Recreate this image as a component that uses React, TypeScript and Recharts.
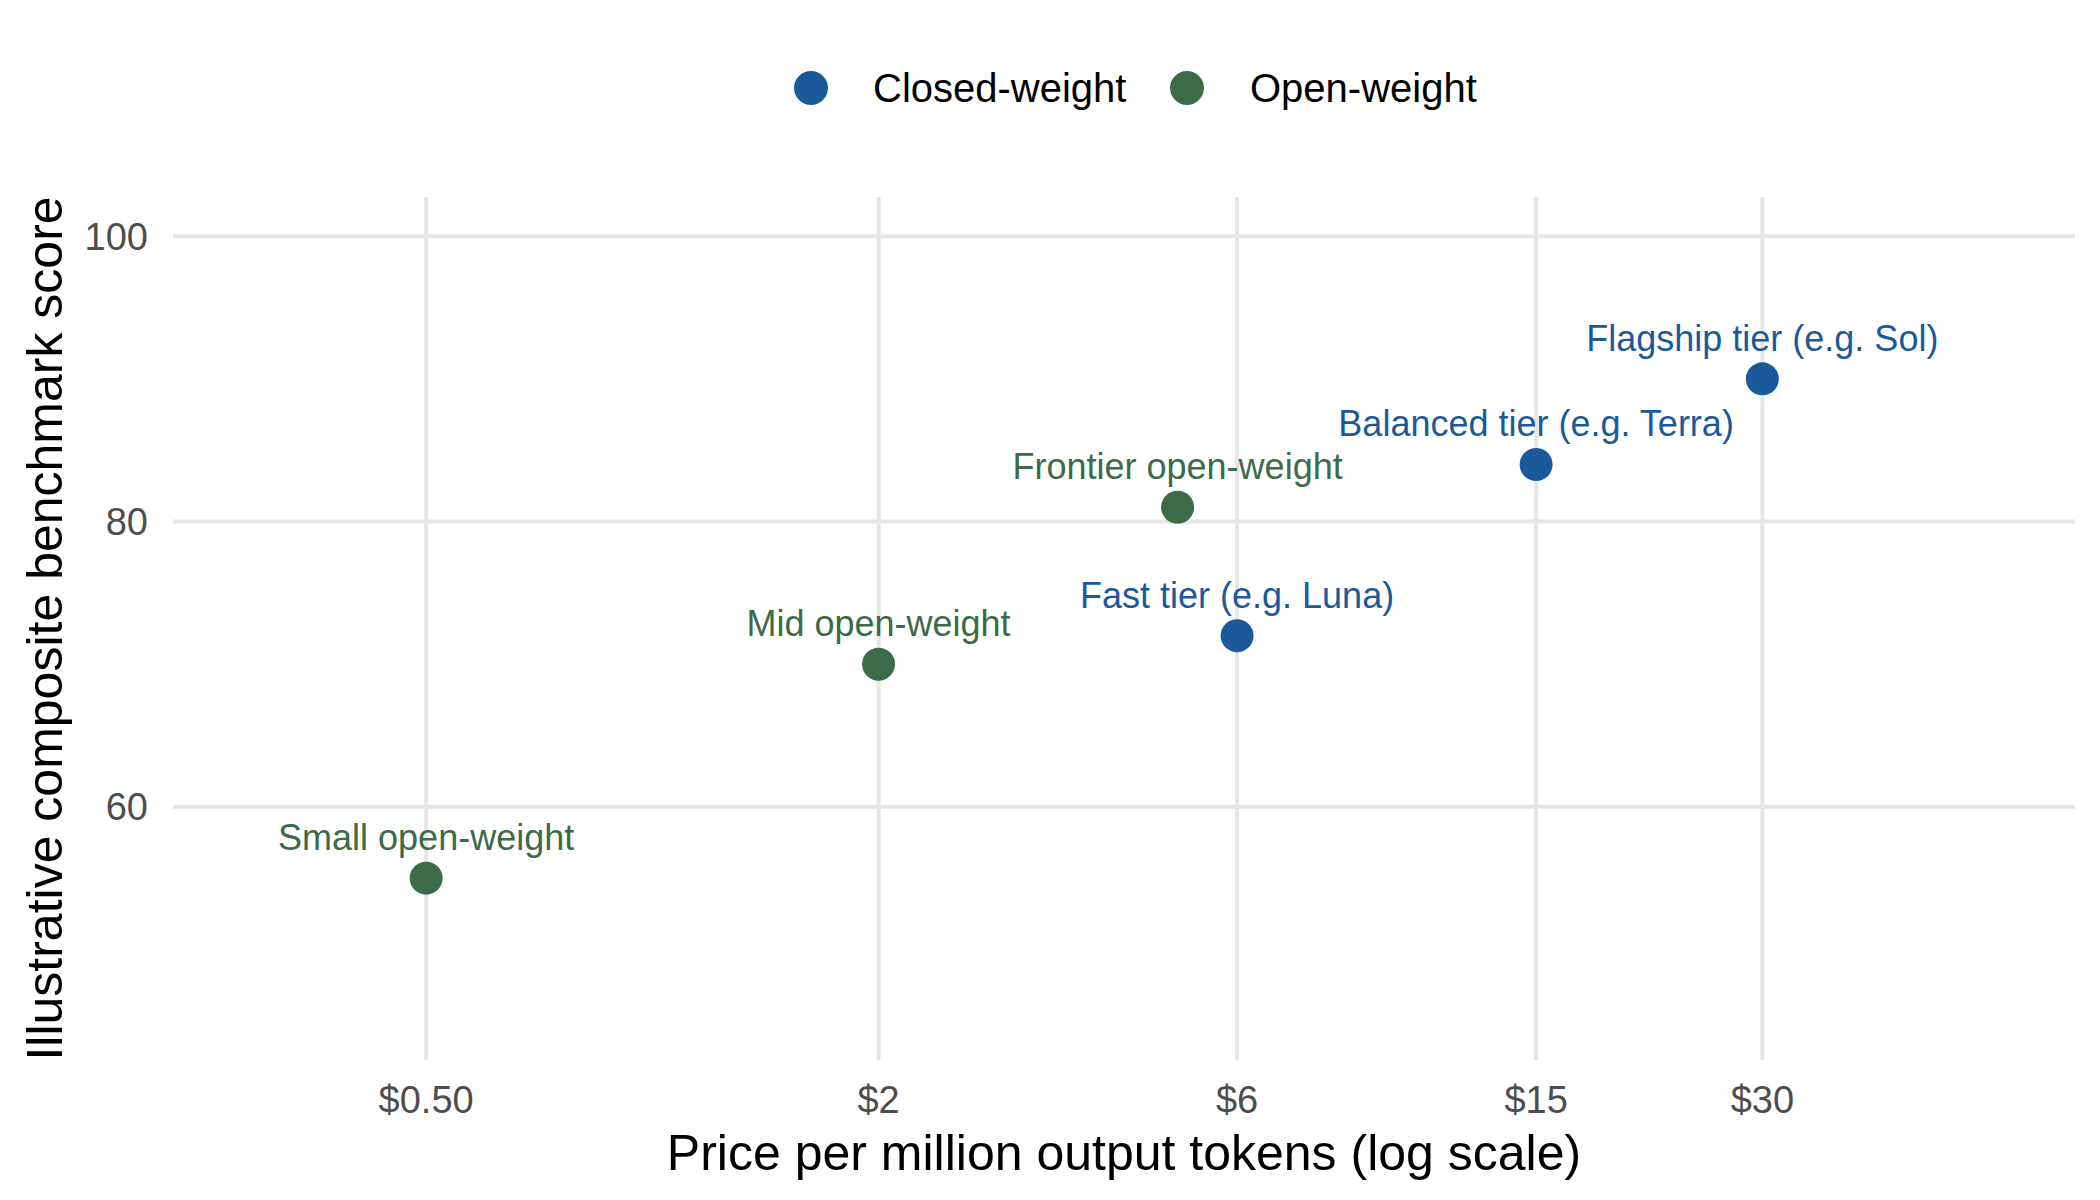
import {
  ScatterChart, Scatter, XAxis, YAxis, CartesianGrid,
} from 'recharts'

// Illustrative price vs. benchmark score, split by weight availability.

const closedLabels = ['Fast tier (e.g. Luna)', 'Balanced tier (e.g. Terra)', 'Flagship tier (e.g. Sol)']
const closedPrices = [6, 15, 30]
const closedScores = [72, 84, 90]

const openLabels = ['Small open-weight', 'Mid open-weight', 'Frontier open-weight']
const openPrices = [0.5, 2, 5]
const openScores = [55, 70, 81]

const priceTicks = [0.5, 2, 6, 15, 30]
const scoreTicks = [60, 80, 100]

const SERIES = [
  { name: 'Closed-weight', color: '#1B5A9A', labels: closedLabels, prices: closedPrices, scores: closedScores },
  { name: 'Open-weight', color: '#3B6B47', labels: openLabels, prices: openPrices, scores: openScores },
]

// ggplot-style limits (0.3..60 on log, 45..100) with 5% expansion
const PRICE_DOMAIN = [0.2302, 78.2]
const SCORE_DOMAIN = [42.25, 102.75]

const FONT = '"Liberation Sans", Arial, Helvetica, sans-serif'
const GRID = '#E6E6E6'
const TICK_COLOR = '#4D4D4D'

const fmtPrice = (v: number) => (v < 1 ? `$${v.toFixed(2)}` : `$${v}`)

function toRows(s: typeof SERIES[number]) {
  return s.labels.map((label, i) => ({ label, price: s.prices[i], score: s.scores[i] }))
}

function PointShape(props: any) {
  const { cx, cy, payload, fill } = props
  if (cx == null || cy == null) return null
  return (
    <g>
      <circle cx={cx} cy={cy} r={16.5} fill={fill} />
      <text x={cx} y={cy - 28} textAnchor="middle" fill={fill} fontSize={36} fontFamily={FONT}>
        {payload.label}
      </text>
    </g>
  )
}

function XTick(props: any) {
  const { x, y, payload } = props
  return (
    <text x={x} y={y + 53} textAnchor="middle" fill={TICK_COLOR} fontSize={38} fontFamily={FONT}>
      {fmtPrice(payload.value)}
    </text>
  )
}

function YTick(props: any) {
  const { x, y, payload } = props
  return (
    <text x={x - 25} y={y} dy="0.355em" textAnchor="end" fill={TICK_COLOR} fontSize={38} fontFamily={FONT}>
      {payload.value}
    </text>
  )
}

function LegendOverlay() {
  const items = [
    { dot: 811, text: 873 },
    { dot: 1187, text: 1250 },
  ]
  return (
    <svg width={2100} height={160} style={{ position: 'absolute', left: 0, top: 0, pointerEvents: 'none' }}>
      {SERIES.map((s, i) => (
        <g key={s.name}>
          <circle cx={items[i].dot} cy={88} r={17} fill={s.color} />
          <text x={items[i].text} y={88} dy="0.355em" fontSize={40} fontFamily={FONT} fill="#000">
            {s.name}
          </text>
        </g>
      ))}
    </svg>
  )
}

export default function App() {
  return (
    <div style={{ position: 'absolute', left: 0, top: 0, width: 2100, height: 1200, background: '#fff' }}>
      <ScatterChart width={2100} height={1200} margin={{ top: 197, right: 25, bottom: 0, left: 0 }}>
        <CartesianGrid stroke={GRID} strokeWidth={4} syncWithTicks />
        <XAxis
          type="number"
          dataKey="price"
          scale="log"
          domain={PRICE_DOMAIN}
          allowDataOverflow
          ticks={priceTicks}
          interval={0}
          height={140}
          axisLine={false}
          tickLine={false}
          tickSize={0}
          tickMargin={0}
          tick={<XTick />}
          label={{
            content: (p: any) => {
              const vb = p.viewBox
              return (
                <text x={vb.x + vb.width / 2} y={vb.y + 110} textAnchor="middle" fontSize={50} fontFamily={FONT} fill="#000">
                  Price per million output tokens (log scale)
                </text>
              )
            },
          }}
        />
        <YAxis
          type="number"
          dataKey="score"
          domain={SCORE_DOMAIN}
          allowDataOverflow
          ticks={scoreTicks}
          interval={0}
          width={173}
          axisLine={false}
          tickLine={false}
          tickSize={0}
          tickMargin={0}
          tick={<YTick />}
          label={{
            content: (p: any) => {
              const vb = p.viewBox
              const cy = vb.y + vb.height / 2
              return (
                <text x={62} y={cy} transform={`rotate(-90, 62, ${cy})`} textAnchor="middle" fontSize={50} fontFamily={FONT} fill="#000">
                  Illustrative composite benchmark score
                </text>
              )
            },
          }}
        />
        {SERIES.map(s => (
          <Scatter
            key={s.name}
            name={s.name}
            data={toRows(s)}
            fill={s.color}
            shape={<PointShape />}
            isAnimationActive={false}
          />
        ))}
      </ScatterChart>
      <LegendOverlay />
    </div>
  )
}
